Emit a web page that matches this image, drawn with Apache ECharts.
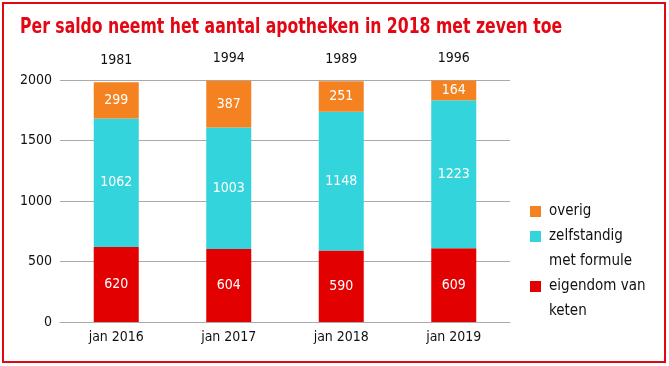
<!DOCTYPE html>
<html>
<head>
<meta charset="utf-8">
<script src="https://cdn.jsdelivr.net/npm/echarts@6/dist/echarts.min.js"></script>
<style>
html,body{margin:0;padding:0;background:#fff;}
#c{width:669px;height:366px;}
</style>
</head>
<body>
<div id="c"></div>
<script>
var categories = ['jan 2016', 'jan 2017', 'jan 2018', 'jan 2019'];
var keten = [620, 604, 590, 609];
var zelfstandig = [1062, 1003, 1148, 1223];
var overig = [299, 387, 251, 164];
var totals = [1981, 1994, 1989, 1996];
var yTicks = [0, 500, 1000, 1500, 2000];

var FONT = '"Liberation Sans Narrow", "DejaVu Sans Condensed", "Roboto", sans-serif';
var chart = echarts.init(document.getElementById('c'), null, {renderer: 'canvas'});

var labelStyle = {show: true, position: 'inside', color: '#fff', fontSize: 14, fontFamily: FONT};

function legendAt(name, top) {
  return {
    data: [{name: name, icon: 'rect'}],
    left: 525, top: top, orient: 'vertical',
    itemWidth: 11, itemHeight: 11, itemGap: 0,
    selectedMode: false,
    formatter: function (n) { return n.split('|')[0]; },
    textStyle: {fontFamily: FONT, fontSize: 15, color: '#111', padding: [0, 0, 0, 3]}
  };
}

chart.setOption({
  animation: false,
  backgroundColor: '#fff',
  grid: {left: 60, right: 159, top: 80, bottom: 44, containLabel: false},
  legend: [
    legendAt('overig', 199),
    legendAt('zelfstandig|met formule', 224),
    legendAt('eigendom van|keten', 274)
  ],
  graphic: [
    {type: 'rect', shape: {x: 3, y: 3, width: 662, height: 359}, style: {fill: 'none', stroke: '#e30613', lineWidth: 2}, silent: true},
    {type: 'text', x: 20, y: 17, scaleX: 0.83, silent: true,
      style: {text: 'Per saldo neemt het aantal apotheken in 2018 met zeven toe', font: 'bold 21px ' + FONT, fill: '#e30613'}},
    {type: 'text', left: 549, top: 254, style: {text: 'met formule', font: '15px ' + FONT, fill: '#111'}},
    {type: 'text', left: 549, top: 304, style: {text: 'keten', font: '15px ' + FONT, fill: '#111'}}
  ],
  xAxis: {
    type: 'category', data: categories,
    axisLine: {show: true, lineStyle: {color: '#aaa', width: 1}},
    axisTick: {show: false},
    axisLabel: {color: '#111', fontSize: 14, fontFamily: FONT, margin: 8}
  },
  yAxis: {
    type: 'value', min: 0, max: 2000, interval: 500,
    axisLine: {show: false}, axisTick: {show: false},
    splitLine: {lineStyle: {color: '#aaa', width: 1}},
    axisLabel: {color: '#111', fontSize: 14, fontFamily: FONT, margin: 8,
      formatter: function (v) { return yTicks.indexOf(v) >= 0 ? String(v) : ''; }}
  },
  series: [
    {name: 'eigendom van|keten', type: 'bar', stack: 'a', data: keten, barWidth: 45,
      itemStyle: {color: '#e30000'}, label: labelStyle},
    {name: 'zelfstandig|met formule', type: 'bar', stack: 'a', data: zelfstandig, barWidth: 45,
      itemStyle: {color: '#33d4dc'}, label: labelStyle},
    {name: 'overig', type: 'bar', stack: 'a', data: overig, barWidth: 45,
      itemStyle: {color: '#f58220'},
      label: labelStyle},
    {name: 'totaal', type: 'bar', stack: 'a', barWidth: 45,
      data: totals.map(function () { return 0; }),
      itemStyle: {color: 'transparent'},
      label: {show: true, position: 'top', distance: 15, color: '#111', fontSize: 14, fontFamily: FONT,
        formatter: function (p) { return totals[p.dataIndex]; }}}
  ]
});
</script>
</body>
</html>
